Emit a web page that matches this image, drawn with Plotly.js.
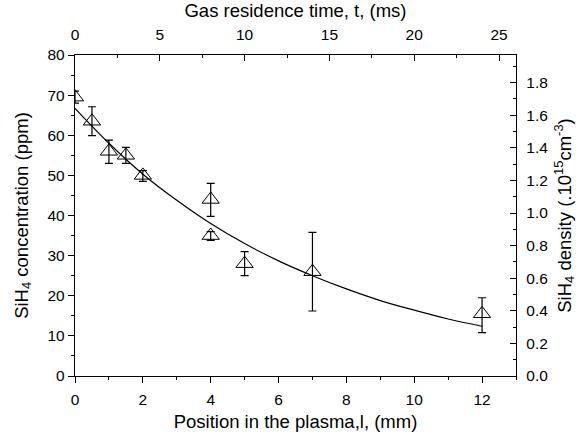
<!DOCTYPE html>
<html>
<head>
<meta charset="utf-8">
<script src="https://cdn.plot.ly/plotly-3.0.1.min.js"></script>
<style>body{margin:0;background:#fff}#chart{width:582px;height:439px}</style>
</head>
<body>
<div id="chart"></div>
<script>
// Measured SiH4 concentration vs position
const positionMm = [0, 0.5, 1, 1.5, 2, 4, 4, 5, 7, 12];
const concentrationPpm = [69.5, 63.5, 56, 55, 50, 44, 35, 28, 26, 15.5];
const errPlus = [1.5, 3.6, 2.8, 2, 1.2, 4, 1, 3, 9.8, 4];
const errMinus = [1.5, 3.6, 3, 2, 1.5, 4.2, 1.2, 3, 9.8, 4.7];
// Fit curve
const fitX = [0, 1, 2, 3, 4, 5, 6, 7, 8, 9, 10, 11, 12];
const fitY = [66.7, 58.0, 50.3, 43.8, 38.0, 33.0, 28.7, 25.0, 21.7, 18.8, 16.4, 14.2, 12.4];

const font = {family: 'Liberation Sans, Arial, sans-serif', size: 15.5, color: '#000'};
const titleFont = {family: 'Liberation Sans, Arial, sans-serif', size: 18.5, color: '#000'};

const traces = [
  {x: fitX, y: fitY, mode: 'lines', line: {color: '#000', width: 1.2, shape: 'spline'}, xaxis: 'x', yaxis: 'y', hoverinfo: 'skip'},
  {x: positionMm, y: concentrationPpm, mode: 'markers', xaxis: 'x', yaxis: 'y',
   marker: {symbol: 'triangle-up-open', size: 15, color: '#000', line: {width: 1}},
   error_y: {type: 'data', symmetric: false, array: errPlus, arrayminus: errMinus, color: '#000', thickness: 1.2, width: 4}},
  {x: [], y: [], xaxis: 'x2', yaxis: 'y', hoverinfo: 'skip'},
  {x: [], y: [], xaxis: 'x', yaxis: 'y2', hoverinfo: 'skip'}
];

const layout = {
  width: 582, height: 439,
  margin: {l: 75, r: 66, t: 55, b: 63},
  showlegend: false,
  paper_bgcolor: '#fff', plot_bgcolor: '#fff',
  font: font,
  xaxis: {range: [0, 13], dtick: 2, tick0: 0, ticks: 'outside', ticklen: 6, tickwidth: 1, tickcolor: '#000',
    minor: {dtick: 1, ticks: 'outside', ticklen: 3, tickcolor: '#000'}, ticklabelstandoff: 3,
    showline: true, linecolor: '#000', linewidth: 1.2, showgrid: false, zeroline: false,
    tickfont: font, title: {text: 'Position in the plasma,l, (mm)', font: titleFont, standoff: 8}},
  xaxis2: {range: [0, 26], dtick: 5, tick0: 0, overlaying: 'x', side: 'top', ticks: 'inside', ticklen: 6, tickwidth: 1, tickcolor: '#000',
    minor: {dtick: 2.5, ticks: 'inside', ticklen: 3, tickcolor: '#000'}, ticklabelstandoff: 8,
    showline: true, linecolor: '#000', linewidth: 1.2, showgrid: false, zeroline: false,
    tickfont: font, title: {text: 'Gas residence time, t, (ms)', font: titleFont, standoff: 4}},
  yaxis: {range: [0, 80], dtick: 10, tick0: 0, ticks: 'outside', ticklen: 6, tickwidth: 1, tickcolor: '#000',
    minor: {dtick: 5, ticks: 'outside', ticklen: 3, tickcolor: '#000'},
    showline: true, linecolor: '#000', linewidth: 1.2, showgrid: false, zeroline: false,
    tickfont: font, title: {text: 'SiH<sub>4</sub> concentration (ppm)', font: titleFont, standoff: 14}},
  yaxis2: {range: [0, 1.97], dtick: 0.2, tick0: 0, tickformat: '.1f', overlaying: 'y', side: 'right', ticks: 'inside', ticklen: 6, tickwidth: 1, tickcolor: '#000',
    minor: {dtick: 0.1, ticks: 'inside', ticklen: 3, tickcolor: '#000'}, ticklabelstandoff: 6,
    showline: true, linecolor: '#000', linewidth: 1.2, showgrid: false, zeroline: false,
    tickfont: font, title: {text: 'SiH<sub>4</sub> density (.10<sup>15</sup>cm<sup>-3</sup>)', font: titleFont, standoff: 10}}
};

Plotly.newPlot('chart', traces, layout, {displayModeBar: false, staticPlot: true});
</script>
</body>
</html>
